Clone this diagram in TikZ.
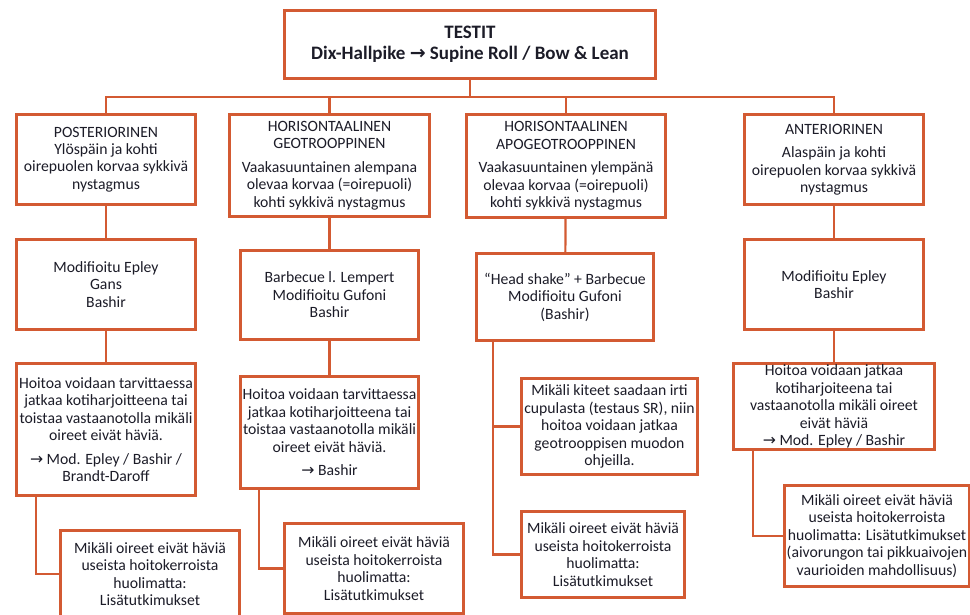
\documentclass[tikz,border=0pt]{standalone}
\usepackage{fontspec}
\setmainfont{Carlito}
\newfontfamily\arrowfont{DejaVu Sans}
\newcommand{\arr}{{\arrowfont\char"2192}}
\definecolor{edge}{HTML}{D35A32}
\definecolor{ink}{HTML}{1C1C28}
\tikzset{
  box/.style={draw=edge, line width=2.2pt, fill=white, inner sep=0pt,
    align=center, text=ink, font=\fontsize{15.7}{17.5}\selectfont},
  link/.style={draw=edge, line width=2.2pt}
}
\begin{document}
\begin{tikzpicture}[x=1pt,y=-1pt]
\useasboundingbox (0,0) rectangle (970,614);

% title box
\node[box, minimum width=370pt, minimum height=67pt, font=\fontsize{19}{21}\selectfont\bfseries] (T) at (470,44.5)
  {TESTIT\\Dix-Hallpike \arr{} Supine Roll / Bow \& Lean};
\coordinate (bus) at (470,97);

% column 1: posteriorinen
\node[box, minimum width=178pt, minimum height=89pt] (a1) at (106,159.5)
  {POSTERIORINEN\\Ylöspäin ja kohti\\oirepuolen korvaa sykkivä\\nystagmus};
\node[box, minimum width=178pt, minimum height=89pt] (a2) at (106,284.5)
  {Modifioitu Epley\\Gans\\Bashir};
\node[box, minimum width=178pt, minimum height=131pt] (a3) at (106,429.5)
  {Hoitoa voidaan tarvittaessa\\jatkaa kotiharjoitteena tai\\toistaa vastaanotolla mikäli\\oireet eivät häviä.\\[6pt]\arr{} Mod. Epley / Bashir /\\Brandt-Daroff};
\node[box, minimum width=178pt, minimum height=86pt] (a4) at (150,574)
  {Mikäli oireet eivät häviä\\useista hoitokerroista\\huolimatta:\\Lisätutkimukset};

% column 2: horisontaalinen geotrooppinen
\node[box, minimum width=199pt, minimum height=101pt] (b1) at (329.5,165.5)
  {HORISONTAALINEN\\GEOTROOPPINEN\\[6pt]Vaakasuuntainen alempana\\olevaa korvaa (=oirepuoli)\\kohti sykkivä nystagmus};
\node[box, minimum width=177pt, minimum height=88pt] (b2) at (329.5,295)
  {Barbecue l. Lempert\\Modifioitu Gufoni\\Bashir};
\node[box, minimum width=177pt, minimum height=111pt] (b3) at (329.5,432.5)
  {Hoitoa voidaan tarvittaessa\\jatkaa kotiharjoitteena tai\\toistaa vastaanotolla mikäli\\oireet eivät häviä.\\[6pt]\arr{} Bashir};
\node[box, minimum width=178pt, minimum height=89pt] (b4) at (374,568.5)
  {Mikäli oireet eivät häviä\\useista hoitokerroista\\huolimatta:\\Lisätutkimukset};

% column 3: horisontaalinen apogeotrooppinen
\node[box, minimum width=198pt, minimum height=102pt] (c1) at (566,166)
  {HORISONTAALINEN\\APOGEOTROOPPINEN\\[6pt]Vaakasuuntainen ylempänä\\olevaa korvaa (=oirepuoli)\\kohti sykkivä nystagmus};
\node[box, minimum width=176pt, minimum height=86pt] (c2) at (565,297)
  {“Head shake” + Barbecue\\Modifioitu Gufoni\\(Bashir)};
\node[box, minimum width=175pt, minimum height=95pt] (c3) at (609.5,426.5)
  {Mikäli kiteet saadaan irti\\cupulasta (testaus SR), niin\\hoitoa voidaan jatkaa\\geotrooppisen muodon\\ohjeilla.};
\node[box, minimum width=162pt, minimum height=85pt] (c4) at (603,554.5)
  {Mikäli oireet eivät häviä\\useista hoitokerroista\\huolimatta:\\Lisätutkimukset};

% column 4: anteriorinen
\node[box, minimum width=178pt, minimum height=89pt] (d1) at (834,159.5)
  {ANTERIORINEN\\[6pt]Alaspäin ja kohti\\oirepuolen korvaa sykkivä\\nystagmus};
\node[box, minimum width=178pt, minimum height=89pt] (d2) at (834,284.5)
  {Modifioitu Epley\\Bashir};
\node[box, minimum width=200pt, minimum height=85pt] (d3) at (834,406.5)
  {Hoitoa voidaan jatkaa\\kotiharjoiteena tai\\vastaanotolla mikäli oireet\\eivät häviä\\\arr{} Mod. Epley / Bashir};
\node[box, minimum width=184pt, minimum height=100pt] (d4) at (877,536)
  {Mikäli oireet eivät häviä\\useista hoitokerroista\\huolimatta: Lisätutkimukset\\(aivorungon tai pikkuaivojen\\vaurioiden mahdollisuus)};

% tree from the title to the four columns
\draw[link] (T.south) -- (bus);
\draw[link] (a1.north) -- (a1.north |- bus) -- (d1.north |- bus) -- (d1.north);
\draw[link] (b1.north) -- (b1.north |- bus);
\draw[link] (c1.north) -- (c1.north |- bus);

% vertical steps within each column
\draw[link] (a1) -- (a2);
\draw[link] (a2) -- (a3);
\draw[link] (b1) -- (b2);
\draw[link] (b2) -- (b3);
\draw[link] (c1) -- (c2);
\draw[link] (d1) -- (d2);
\draw[link] (d2) -- (d3);

% side branches
\draw[link] ([xshift=20pt]a3.south west) |- (a4.west);
\draw[link] ([xshift=19pt]b3.south west) |- (b4.west);
\draw[link] ([xshift=17pt]c2.south west) |- (c3.west);
\draw[link] ([xshift=17pt]c2.south west) |- (c4.west);
\draw[link] ([xshift=20pt]d3.south west) |- (d4.west);

% redraw boxes over the connector ends
\foreach \n in {T,a1,a2,a3,a4,b1,b2,b3,b4,c1,c2,c3,c4,d1,d2,d3,d4}
  \draw[draw=edge, line width=2.2pt] (\n.north west) rectangle (\n.south east);
\end{tikzpicture}
\end{document}
